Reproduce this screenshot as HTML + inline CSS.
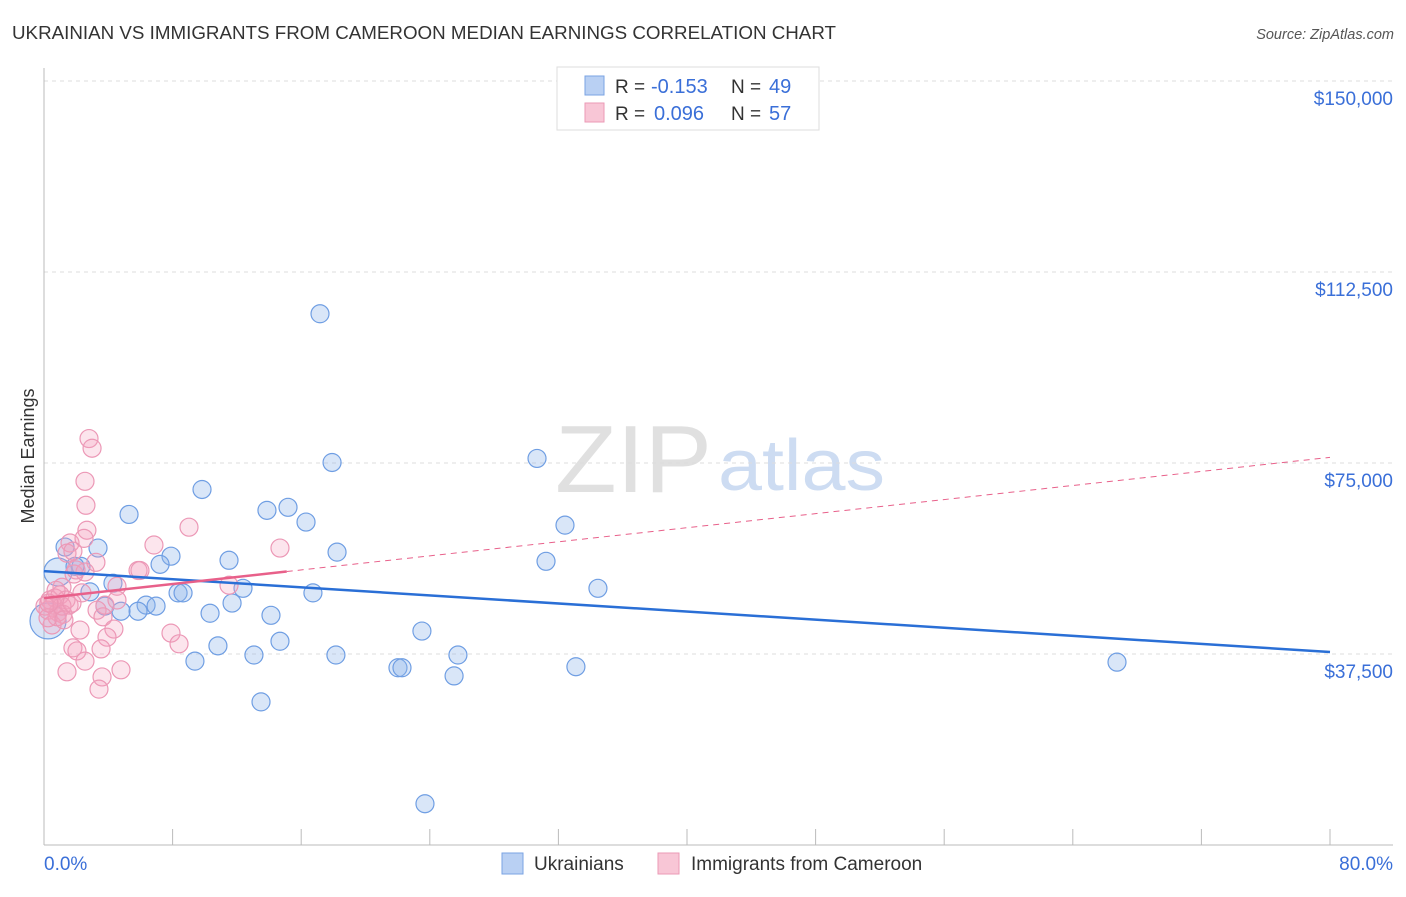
<!DOCTYPE html>
<html><head><meta charset="utf-8"><style>
body{margin:0;background:#fff;font-family:"Liberation Sans",sans-serif;}
svg text{font-family:"Liberation Sans",sans-serif;}
</style></head><body>
<svg id="chart" width="1406" height="892" xmlns="http://www.w3.org/2000/svg">
<text x="12" y="39" font-size="18.3" fill="#333" textLength="824" lengthAdjust="spacingAndGlyphs">UKRAINIAN VS IMMIGRANTS FROM CAMEROON MEDIAN EARNINGS CORRELATION CHART</text>
<text x="1394" y="39" font-size="14.5" fill="#555" font-style="italic" text-anchor="end">Source: ZipAtlas.com</text>
<g>
<text x="712" y="492" font-size="96" fill="#e0e0e0" text-anchor="end" font-family="Liberation Serif,serif" textLength="157" lengthAdjust="spacingAndGlyphs">ZIP</text>
<text x="718" y="490" font-size="72" fill="#cddcf2" textLength="167" lengthAdjust="spacingAndGlyphs">atlas</text>
</g>
<g id="grid"></g>
<g id="axes"></g>
<g id="pts"></g>
<g id="trends"></g>
<g>
<rect x="557" y="67" width="262" height="63" fill="#fff" stroke="#ddd"/>
<rect x="585" y="76" width="19" height="19" fill="#b9d0f3" stroke="#7aa3e3"/>
<text x="615" y="93" font-size="19" fill="#333">R =</text>
<text x="651" y="93" font-size="20" fill="#3a6fd8">-0.153</text>
<text x="731" y="93" font-size="19" fill="#333">N =</text>
<text x="769" y="93" font-size="20" fill="#3a6fd8">49</text>
<rect x="585" y="103" width="19" height="19" fill="#f8c6d6" stroke="#eb9ab6"/>
<text x="615" y="120" font-size="19" fill="#333">R =</text>
<text x="654" y="120" font-size="20" fill="#3a6fd8">0.096</text>
<text x="731" y="120" font-size="19" fill="#333">N =</text>
<text x="769" y="120" font-size="20" fill="#3a6fd8">57</text>
</g>
<g>
<rect x="502" y="853" width="21" height="21" fill="#b9d0f3" stroke="#7aa3e3"/>
<text x="534" y="870" font-size="19" fill="#333">Ukrainians</text>
<rect x="658" y="853" width="21" height="21" fill="#f8c6d6" stroke="#eb9ab6"/>
<text x="691" y="870" font-size="19" fill="#333">Immigrants from Cameroon</text>
</g>
<text transform="translate(34,456) rotate(-90)" font-size="18" fill="#333" text-anchor="middle">Median Earnings</text>
</svg>
<script>
const yTicks=[37500,75000,112500,150000];
const yTickLabels=["$37,500","$75,000","$112,500","$150,000"];
const xTickLabels=["0.0%","80.0%"];
const blueX=[17.17,30.67,17.92,9.83,5.29,13.87,15.18,16.30,32.41,3.36,1.31,7.90,11.51,7.22,18.23,31.23,2.30,4.29,34.46,12.38,2.86,8.34,8.65,16.73,6.35,6.97,5.85,4.79,11.70,10.33,14.12,3.79,23.51,14.68,10.82,13.06,18.16,25.75,9.39,22.02,22.27,33.09,66.75,25.51,13.50,23.70,0.25,0.87,1.93];
const blueY=[104.3,75.9,75.1,69.8,64.9,65.7,66.3,63.4,62.8,58.3,58.5,56.7,55.9,55.1,57.5,55.7,54.7,51.4,50.4,50.4,49.7,49.5,49.5,49.5,47.1,46.9,45.9,45.9,47.5,45.5,45.1,46.9,42.0,40.0,39.1,37.3,37.3,37.3,36.1,34.8,34.8,35.0,35.9,33.2,28.1,8.1,44.0,53.6,54.7];
const blueR=[9,9,9,9,9,9,9,9,9,9,9,9,9,9,9,9,9,9,9,9,9,9,9,9,9,9,9,9,9,9,9,9,9,9,9,9,9,9,9,9,9,9,9,9,9,9,18,14,9];
const pinkX=[2.80,2.99,2.55,2.61,2.67,9.02,14.68,1.62,2.49,6.84,1.43,1.80,3.23,5.85,1.87,2.55,4.54,11.51,1.12,0.37,0.68,1.00,1.37,0.25,0.87,0.56,0.06,1.56,3.79,3.30,1.18,3.67,4.35,2.24,7.90,8.40,3.92,1.80,2.05,3.55,2.55,1.43,4.79,3.61,3.42,0.50,0.81,0.25,1.12,1.99,4.54,2.36,1.24,0.75,1.74,5.97,0.3];
const pinkY=[79.8,77.9,71.4,66.7,61.8,62.4,58.3,59.3,60.2,58.9,57.3,57.7,55.5,53.9,53.2,53.6,50.8,51.0,50.6,48.1,48.5,49.1,48.1,46.1,45.7,47.1,46.9,47.1,47.1,46.1,45.3,44.8,42.4,42.2,41.6,39.5,40.8,38.7,38.1,38.5,36.1,34.0,34.4,33.0,30.6,43.2,44.8,44.6,46.9,54.0,48.1,49.5,44.2,50.0,47.5,53.9,47.5];
const blueTrend=[53770,37890];
const pinkTrend=[48480,76110];
const pinkSolidEnd=15.1;
const X0=44,X1=1330,Y0=845,YT=654;
const sx=v=>X0+(v/80)*(X1-X0);
const sy=v=>Y0-(v/37500)*(Y0-YT);
const NS="http://www.w3.org/2000/svg";
function mk(tag,attrs,parent){const e=document.createElementNS(NS,tag);for(const k in attrs)e.setAttribute(k,attrs[k]);parent.appendChild(e);return e;}
const grid=document.getElementById('grid'),axes=document.getElementById('axes'),pts=document.getElementById('pts'),tr=document.getElementById('trends');
yTicks.forEach((t,i)=>{
 const l=mk('line',{x1:X0,x2:1393,y1:sy(t),y2:sy(t),stroke:'#ddd','stroke-dasharray':'4,4'},grid);
 
 
 const tx=mk('text',{x:1393,y:sy(t)+24,'font-size':19,fill:'#3a6fd8','text-anchor':'end'},axes);
 tx.textContent=yTickLabels[i];
 
 
});
let ax=mk('line',{x1:X0,x2:1393,y1:Y0,y2:Y0,stroke:'#bbb'},axes);


let ay=mk('line',{x1:X0,x2:X0,y1:68,y2:Y0,stroke:'#bbb'},axes);


for(let i=0;i<=10;i++){
 const tk=mk('line',{x1:sx(i*8),x2:sx(i*8),y1:Y0-16,y2:Y0,stroke:'#bbb'},axes);
 
 
}
[[0,'start',44],[80,'end',1393]].forEach((d,i)=>{
 const t=mk('text',{x:d[2],y:870,'font-size':19,fill:'#3a6fd8','text-anchor':d[1]},axes);
 t.textContent=xTickLabels[i];
 
 
});
blueX.forEach((x,i)=>{
 const c=mk('circle',{cx:sx(x),cy:sy(blueY[i]*1000),r:blueR[i],fill:'rgba(140,180,235,0.33)',stroke:'#6f9ee3','stroke-width':1.2},pts);
 
 
});
pinkX.forEach((x,i)=>{
 const c=mk('circle',{cx:sx(x),cy:sy(pinkY[i]*1000),r:9,fill:'rgba(245,160,190,0.28)',stroke:'#ec98b6','stroke-width':1.2},pts);
 
 
});
const bl=mk('line',{x1:sx(0),y1:sy(blueTrend[0]),x2:sx(80),y2:sy(blueTrend[1]),stroke:'#2a6fd6','stroke-width':2.5},tr);


const pv=x=>pinkTrend[0]+(pinkTrend[1]-pinkTrend[0])*x/80;
const pl=mk('line',{x1:sx(0),y1:sy(pv(0)),x2:sx(pinkSolidEnd),y2:sy(pv(pinkSolidEnd)),stroke:'#e8608a','stroke-width':2.5},tr);


const pd=mk('line',{x1:sx(pinkSolidEnd),y1:sy(pv(pinkSolidEnd)),x2:sx(80),y2:sy(pv(80)),stroke:'#e8608a','stroke-width':1,'stroke-dasharray':'6,5'},tr);


</script>
</body></html>
